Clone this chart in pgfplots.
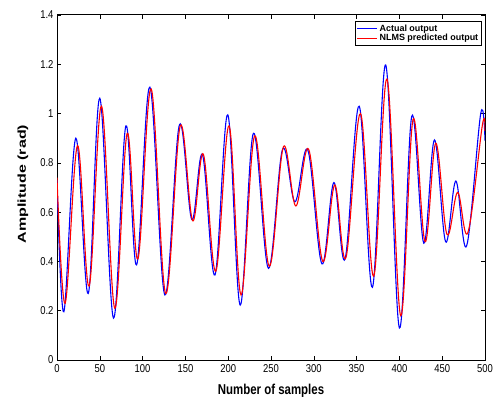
\documentclass[border=0pt]{standalone}
\usepackage{pgfplots}
\pgfplotsset{compat=1.18}
\usepackage{fontspec}
\setmainfont{Liberation Sans}
\begin{document}
\begin{tikzpicture}[x=1bp,y=1bp]
\useasboundingbox (-57,-43) rectangle (437,360);
\begin{axis}[
  at={(0,0)}, anchor=south west,
  scale only axis, width=428bp, height=345bp,
  xmin=0, xmax=500, ymin=0, ymax=1.4,
  xtick={0,50,...,500},
  ytick={0,0.2,0.4,0.6,0.8,1,1.2,1.4},
  yticklabels={0,0.2,0.4,0.6,0.8,1,1.2,1.4},
  tick align=inside, tick pos=both,
  major tick length=4bp,
  axis line style={line width=1pt},
  tick style={line width=0.6pt, black},
  /pgf/number format/assume math mode=true,
  ticklabel style={font=\fontsize{9.5}{10}\selectfont, yscale=1.2},
  xlabel={\scalebox{1}[1.25]{\textbf{Number of samples}}},
  ylabel={\scalebox{1.4}[1]{\textbf{Amplitude (rad)}}},
  label style={font=\fontsize{11.5}{12}\selectfont},
  xlabel style={at={(axis description cs:0.5,-0.09)}, anchor=center},
  ylabel style={at={(axis description cs:-0.0794,0.51)}, anchor=center},
  legend style={at={(0.993,0.983)}, anchor=north east, font=\fontsize{9}{9.5}\selectfont\bfseries, draw=black, line width=0.6pt, inner sep=1.5pt, row sep=-2.5pt, legend cell align=left},
  legend image code/.code={\draw[#1] (0bp,0bp) -- (20bp,0bp);},
]
\addplot[draw=blue, line width=1.1pt, smooth, tension=0.6] coordinates {
(0,0.73) (8,0.196) (22,0.90) (36.5,0.27) (50,1.062) (66,0.17) (80.5,0.95) (93,0.386)
(108.5,1.107) (126,0.264) (143,0.954) (157.5,0.57) (170,0.832) (184.5,0.345) (199.5,0.995)
(214,0.223) (229.5,0.92) (247,0.372) (263.5,0.855) (278,0.642) (293,0.852) (309.5,0.39)
(323.5,0.72) (336.5,0.41) (353,1.03) (368.5,0.295) (384,1.197) (400,0.13) (414.5,0.99)
(428.5,0.474) (441,0.893) (454,0.48) (466,0.726) (478.5,0.463) (495,1.0) (500,0.89)
};
\addlegendentry{Actual output}
\addplot[draw=red, line width=1.1pt, smooth, tension=0.6] coordinates {
(0,0.74) (9.5,0.23) (24,0.87) (37.5,0.30) (52,1.03) (67.5,0.21) (82,0.92) (94.5,0.41)
(110,1.10) (127,0.27) (144,0.95) (158.5,0.565) (171,0.835) (185.5,0.36) (201,0.95)
(215,0.264) (231,0.91) (248,0.38) (264.5,0.865) (279,0.625) (294,0.855) (310.5,0.40)
(324.5,0.71) (337.5,0.415) (354.5,1.00) (370,0.34) (385.5,1.14) (401.5,0.18) (416,0.977)
(430,0.48) (442.5,0.88) (455.5,0.51) (468,0.68) (480,0.517) (497,0.955) (500,0.93)
};
\addlegendentry{NLMS predicted output}
\end{axis}
\end{tikzpicture}
\end{document}
